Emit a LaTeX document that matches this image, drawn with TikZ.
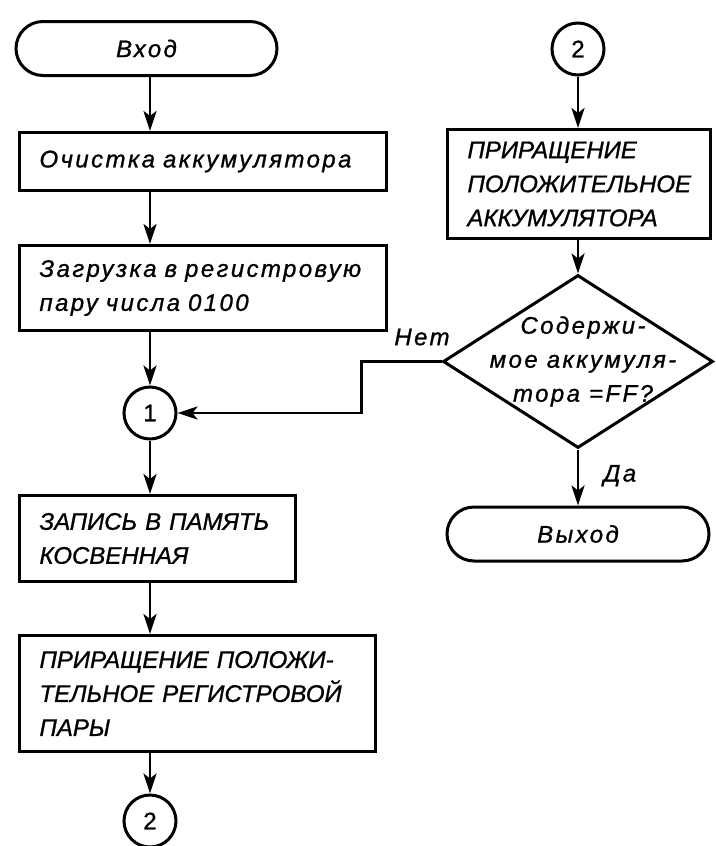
\documentclass[tikz,border=0pt]{standalone}
\usepackage{fontspec}
\setmainfont{Liberation Sans}[LetterSpace=10.0, FakeBold=1]
\newfontfamily\capsfont{Liberation Sans}[LetterSpace=0.0, FakeBold=1]
\usepackage{tikz}
\usetikzlibrary{shapes.misc,shapes.geometric,arrows.meta,positioning}

\begin{document}
\begin{tikzpicture}[
    x=1pt, y=1pt,
    font=\fontsize{24}{34}\selectfont\itshape,
    >={Stealth[length=20pt,width=13pt,inset=5pt]},
    % --- node styles ---
    proc/.style = {rectangle, draw, line width=3pt, anchor=north west,
                   align=left, inner xsep=20pt, inner ysep=0pt},
    capsproc/.style = {proc, font=\capsfont\fontsize{24}{34}\selectfont\itshape},
    term/.style = {rounded rectangle, draw, line width=3pt,
                   minimum height=54pt, inner sep=0pt},
    conn/.style = {circle, draw, line width=3pt, minimum size=52pt,
                   inner sep=0pt, font=\capsfont\fontsize{24}{34}\selectfont},
    decision/.style = {diamond, draw, line width=3pt, inner sep=0pt,
                       minimum width=270pt, minimum height=173pt},
    arrow/.style  = {->, line width=2.6pt},
]

\useasboundingbox (0,0) rectangle (715,-846);

%============ LEFT COLUMN ============
\coordinate (lcol) at (150,0);

\node (entry) [term, minimum width=261pt] at (146.5,-48.5) {Вход};

\node (clear) [proc, text width=327pt, minimum height=58pt] at (18,-131)
  {Очистка аккумулятора};

\node (load) [proc, text width=327pt, minimum height=85pt] at (18,-244)
  {Загрузка в регистровую\\пару числа 0100};

\node (c1) [conn] at (150,-413) {1};

\node (store) [capsproc, text width=236pt, minimum height=86pt] at (18,-494)
  {ЗАПИСЬ В ПАМЯТЬ\\КОСВЕННАЯ};

\node (incpair) [capsproc, text width=316pt, minimum height=116pt] at (18,-634)
  {ПРИРАЩЕНИЕ ПОЛОЖИ-\\ТЕЛЬНОЕ РЕГИСТРОВОЙ\\ПАРЫ};

\node (c2b) [conn] at (150,-821) {2};

\foreach \a/\b in {entry/clear, clear/load, load/c1, c1/store,
                   store/incpair, incpair/c2b}
  \draw[arrow] (\a.south -| lcol) -- (\b.north -| lcol);

%============ RIGHT COLUMN ============
\node (c2t) [conn] at (578,-49) {2};

\node (incacc) [capsproc, text width=223pt, minimum height=109pt] at (446,-128)
  {ПРИРАЩЕНИЕ\\ПОЛОЖИТЕЛЬНОЕ\\АККУМУЛЯТОРА};

\node (check) [decision,
               label={[align=center, xshift=5pt]center:Содержи-\\мое аккумуля-\\тора =FF?}]
  at (578,-361.5) {};

\node (exit) [term, minimum width=262pt] at (578,-534) {Выход};

\foreach \a/\b in {c2t/incacc, incacc/check, check/exit}
  \draw[arrow] (\a.south -| check) -- (\b.north -| check);

% answers of the test
\node (yes) [below right=12pt and 22pt of check.south] {Да};
\node (no) [above=12.5pt of check.west, xshift=-19.5pt] {Нет};

% back to connector 1
\draw[arrow] (check.west) -- ++(-80,0) |- (c1.east);

\end{tikzpicture}
\end{document}
